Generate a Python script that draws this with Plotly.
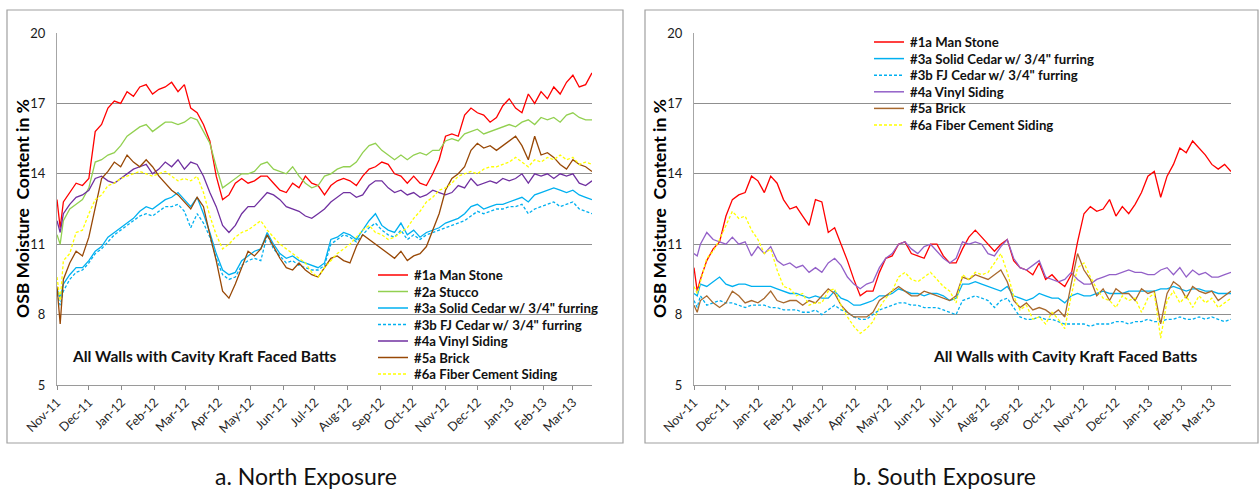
import plotly.graph_objects as go
import pandas as pd

# ---------------- data ----------------
start_date = "2011-11-01"
end_date = "2013-03-19"
day_offsets = [0, 3] + list(range(6, 505, 6))

month_starts = ["2011-11-01", "2011-12-01", "2012-01-01", "2012-02-01", "2012-03-01",
                "2012-04-01", "2012-05-01", "2012-06-01", "2012-07-01", "2012-08-01",
                "2012-09-01", "2012-10-01", "2012-11-01", "2012-12-01", "2013-01-01",
                "2013-02-01", "2013-03-01"]
month_labels = ["Nov-11", "Dec-11", "Jan-12", "Feb-12", "Mar-12", "Apr-12", "May-12",
                "Jun-12", "Jul-12", "Aug-12", "Sep-12", "Oct-12", "Nov-12", "Dec-12",
                "Jan-13", "Feb-13", "Mar-13"]
y_ticks = [5, 8, 11, 14, 17, 20]

# North exposure
north_1a = [12.9, 11.7, 12.8, 13.2, 13.6, 13.5, 13.8, 15.8, 16.1, 16.8, 17.1,
            17.0, 17.5, 17.3, 17.7, 17.8, 17.4, 17.6, 17.7, 17.9, 17.5,
            17.8, 16.8, 16.6, 16.1, 15.4, 13.9, 12.9, 13.1, 13.6, 13.8,
            13.6, 13.7, 13.9, 13.9, 13.6, 13.3, 13.2, 13.6, 13.4, 13.9,
            13.6, 13.5, 13.1, 13.5, 13.7, 13.8, 13.7, 13.5, 13.9, 14.2,
            14.3, 14.5, 14.4, 14.0, 13.9, 13.6, 13.9, 13.6, 13.5, 14.0,
            14.6, 15.6, 15.7, 15.6, 16.5, 16.8, 16.6, 16.5, 16.2, 16.4,
            16.9, 17.2, 16.8, 16.6, 17.4, 17.0, 17.5, 17.2, 17.7, 17.4,
            17.9, 18.2, 17.7, 17.8, 18.3]
north_2a = [11.4, 11.0, 12.0, 12.5, 12.7, 12.9, 13.4, 14.5, 14.6, 14.8, 14.9,
            15.2, 15.6, 15.8, 16.0, 16.1, 15.8, 16.0, 16.2, 16.2, 16.1,
            16.2, 16.4, 16.3, 15.8, 15.3, 14.3, 13.4, 13.6, 13.8, 14.0,
            14.0, 14.1, 14.4, 14.5, 14.2, 14.1, 14.0, 14.3, 13.9, 13.6,
            13.4, 13.5, 13.9, 14.0, 14.2, 14.3, 14.3, 14.5, 14.9, 15.2,
            15.3, 15.0, 14.8, 14.6, 14.8, 14.6, 14.8, 14.9, 14.8, 15.0,
            15.0, 15.4, 15.5, 15.4, 15.7, 15.8, 15.9, 15.7, 15.8, 15.9,
            16.0, 16.1, 16.0, 16.2, 16.3, 16.1, 16.4, 16.3, 16.4, 16.2,
            16.5, 16.6, 16.4, 16.3, 16.3]
north_3a = [9.1, 8.7, 9.3, 9.7, 10.0, 10.0, 10.3, 10.7, 10.9, 11.3, 11.5,
            11.7, 11.9, 12.1, 12.4, 12.6, 12.5, 12.7, 12.9, 13.0, 13.2,
            12.9, 12.6, 13.0, 12.3, 11.5, 10.6, 9.9, 9.7, 9.8, 10.3,
            10.5, 10.7, 10.8, 11.5, 11.0, 10.6, 10.4, 10.5, 10.3, 10.2,
            10.1, 10.0, 10.2, 11.2, 11.3, 11.5, 11.4, 11.2, 11.6, 12.0,
            12.3, 11.8, 11.6, 11.5, 11.9, 11.4, 11.6, 11.3, 11.5, 11.6,
            11.7, 11.9, 12.0, 12.1, 12.3, 12.6, 12.7, 12.5, 12.6, 12.7,
            12.7, 12.8, 12.9, 13.0, 12.8, 13.1, 13.2, 13.3, 13.4, 13.3,
            13.2, 13.3, 13.1, 13.0, 12.9]
north_3b = [8.9, 8.4, 9.0, 9.5, 9.8, 9.9, 10.2, 10.6, 10.8, 11.1, 11.4,
            11.6, 11.8, 12.0, 12.2, 12.3, 12.2, 12.4, 12.6, 12.6, 12.7,
            12.4, 11.7, 12.3, 11.9, 11.3, 10.4, 9.7, 9.5, 9.6, 10.1,
            10.3, 10.4, 10.3, 11.4, 10.8, 10.5, 10.2, 10.3, 10.1, 10.0,
            9.9, 9.9, 10.1, 11.0, 11.2, 11.4, 11.3, 11.1, 11.4, 11.7,
            11.9, 11.6, 11.4, 11.3, 11.6, 11.2, 11.4, 11.2, 11.4, 11.5,
            11.6, 11.7, 11.8, 11.9, 12.0, 12.2, 12.4, 12.3, 12.4, 12.5,
            12.5, 12.6, 12.6, 12.7, 12.3, 12.5, 12.6, 12.7, 12.8, 12.6,
            12.7, 12.8, 12.5, 12.4, 12.3]
north_4a = [12.0, 11.5, 12.3, 12.7, 13.0, 13.1, 13.3, 13.8, 13.9, 13.7, 13.6,
            13.8, 14.0, 14.2, 14.3, 14.4, 14.0, 14.2, 14.5, 14.3, 14.6,
            14.2, 14.5, 14.4, 13.9, 13.2, 12.6, 11.8, 11.5, 11.8, 12.3,
            12.6, 12.6, 12.9, 13.2, 13.1, 12.9, 12.6, 12.5, 12.4, 12.2,
            12.1, 12.3, 12.5, 12.8, 13.0, 13.2, 13.2, 13.0, 13.1, 13.5,
            13.7, 13.7, 13.4, 13.2, 13.3, 13.1, 13.2, 13.0, 13.1, 13.3,
            13.2, 13.1, 13.2, 13.5, 13.4, 13.8, 13.5, 13.6, 13.7, 13.6,
            13.8, 13.7, 13.8, 14.0, 13.6, 14.0, 13.9, 14.0, 13.8, 14.0,
            13.9, 14.0, 13.6, 13.5, 13.7]
north_5a = [9.2, 7.6, 9.5, 10.2, 10.7, 10.5, 11.3, 12.5, 13.8, 14.1, 14.5,
            14.3, 14.8, 14.5, 14.3, 14.6, 14.3, 13.9, 13.6, 13.3, 13.1,
            12.8, 12.5, 13.0, 12.6, 11.4, 10.3, 9.0, 8.7, 9.3, 10.0,
            10.7, 10.5, 10.8, 11.4, 10.9, 10.4, 10.0, 9.9, 10.2, 9.9,
            9.7, 9.6, 10.0, 10.4, 10.5, 10.3, 10.2, 10.9, 11.4, 11.2,
            11.0, 10.8, 10.6, 10.4, 10.7, 10.3, 10.5, 10.6, 10.9, 11.6,
            12.3, 13.3, 13.8, 14.0, 14.3, 15.0, 15.3, 15.1, 15.2, 15.0,
            15.2, 15.4, 15.6, 15.2, 14.6, 15.6, 14.8, 14.9, 14.7, 14.4,
            14.2, 14.6, 14.4, 14.3, 14.1]
north_6a = [9.6, 8.6, 10.3, 10.6, 11.5, 11.6, 12.3, 12.9, 13.1, 13.5, 13.6,
            13.8, 13.9, 14.0, 14.1, 14.0, 13.9, 14.0, 14.1, 13.9, 13.7,
            13.8, 13.7, 13.9, 13.2, 12.2, 11.4, 10.8, 11.0, 11.3, 11.5,
            11.6, 11.8, 12.0, 11.6, 11.3, 11.0, 10.8, 10.6, 10.4, 10.2,
            9.8, 9.6, 10.0, 10.3, 10.6, 10.8, 11.0, 11.3, 11.6, 11.8,
            11.5, 11.4, 11.2, 11.3, 11.5, 11.7, 12.1, 12.4, 12.8, 13.0,
            13.3, 13.4, 13.6, 13.9, 14.0, 14.1, 14.0, 14.2, 14.3, 14.3,
            14.4, 14.5, 14.7, 14.5, 14.3, 14.6, 14.5, 14.7, 14.6, 14.8,
            14.6, 14.7, 14.4, 14.5, 14.4]

# South exposure
south_1a = [10.0, 9.0, 9.5, 10.3, 10.8, 11.1, 12.2, 12.9, 13.1, 13.2, 13.9,
            13.7, 13.2, 13.9, 13.6, 12.9, 12.5, 12.6, 12.2, 11.8, 12.9,
            12.8, 11.5, 11.7, 11.0, 10.3, 9.5, 8.8, 9.0, 9.0, 9.8,
            10.4, 10.5, 11.0, 11.1, 10.6, 10.5, 10.4, 11.0, 11.0, 10.5,
            10.2, 10.2, 10.8, 11.3, 11.6, 11.3, 11.0, 10.7, 11.0, 11.2,
            10.3, 10.0, 9.9, 9.7, 10.2, 9.5, 9.7, 9.4, 9.2, 9.7,
            11.1, 12.3, 12.6, 12.4, 12.5, 12.9, 12.2, 12.6, 12.3, 12.7,
            13.2, 13.9, 14.1, 13.0, 13.9, 14.4, 15.1, 14.9, 15.4, 15.1,
            14.8, 14.4, 14.2, 14.4, 14.1]
south_3a = [8.9, 8.8, 9.3, 9.2, 9.4, 9.6, 9.3, 9.2, 9.3, 9.3, 9.2,
            9.2, 9.2, 9.2, 9.1, 9.0, 8.9, 8.9, 8.8, 8.7, 8.8,
            8.7, 8.7, 9.0, 8.7, 8.6, 8.4, 8.4, 8.5, 8.6, 8.8,
            8.8, 8.9, 9.1, 9.0, 8.9, 8.9, 8.8, 8.9, 8.9, 8.8,
            8.6, 8.7, 9.3, 9.3, 9.4, 9.3, 9.2, 9.1, 9.0, 9.2,
            8.8, 8.7, 8.6, 8.7, 8.9, 8.8, 8.7, 8.7, 8.5, 8.8,
            8.9, 8.8, 8.8, 8.9, 9.0, 8.9, 8.9, 8.9, 9.0, 9.0,
            9.0, 9.0, 9.0, 9.1, 9.1, 9.2, 9.1, 9.0, 9.1, 9.1,
            9.0, 9.0, 8.9, 8.9, 8.9]
south_3b = [8.6, 8.3, 8.8, 8.4, 8.5, 8.6, 8.5, 8.5, 8.4, 8.3, 8.4,
            8.4, 8.4, 8.3, 8.3, 8.2, 8.2, 8.2, 8.1, 8.1, 8.2,
            8.0, 8.2, 8.4, 8.2, 8.1, 7.9, 7.8, 7.8, 8.0, 8.2,
            8.3, 8.4, 8.5, 8.5, 8.4, 8.4, 8.3, 8.3, 8.3, 8.2,
            8.1, 8.0, 8.6, 8.7, 8.8, 8.7, 8.6, 8.3, 8.6, 8.7,
            8.3, 7.9, 7.8, 7.8, 7.9, 7.8, 7.8, 7.7, 7.6, 7.6,
            7.6, 7.6, 7.5, 7.6, 7.6, 7.6, 7.7, 7.7, 7.6, 7.7,
            7.7, 7.8, 7.7, 7.7, 7.8, 7.8, 7.9, 7.8, 7.8, 7.9,
            7.8, 7.9, 7.8, 7.7, 7.8]
south_4a = [10.6, 10.5, 11.0, 11.5, 11.2, 11.1, 11.0, 11.3, 11.0, 11.1, 10.5,
            10.9, 10.6, 10.9, 10.3, 10.1, 10.2, 10.0, 10.1, 9.8, 10.0,
            9.8, 10.2, 10.4, 10.1, 9.6, 9.3, 9.1, 9.3, 9.4, 10.0,
            10.4, 10.6, 11.0, 11.1, 10.8, 10.6, 10.9, 11.0, 10.7, 10.4,
            10.2, 10.4, 11.1, 11.0, 11.1, 11.0, 10.6, 10.5, 10.9, 11.2,
            10.4, 10.0, 9.9, 10.1, 10.3, 9.6, 9.5, 9.4, 9.5, 9.8,
            9.5, 9.3, 9.3, 9.5, 9.6, 9.7, 9.7, 9.8, 9.9, 9.8,
            9.8, 9.7, 9.7, 9.9, 10.0, 9.7, 10.0, 9.6, 9.9, 9.7,
            9.8, 9.6, 9.6, 9.7, 9.8]
south_5a = [8.4, 8.1, 8.6, 8.8, 8.5, 8.3, 8.5, 9.0, 8.8, 8.5, 8.6,
            8.5, 8.7, 9.0, 8.6, 8.5, 8.6, 8.6, 8.4, 8.6, 8.5,
            8.8, 9.1, 8.9, 8.4, 8.1, 7.9, 7.9, 7.9, 8.1, 8.6,
            8.8, 9.0, 9.2, 9.0, 8.8, 8.8, 9.0, 8.9, 8.8, 8.7,
            8.6, 8.8, 9.6, 9.5, 9.7, 9.6, 9.5, 9.7, 9.9, 9.4,
            8.6, 8.3, 8.5, 8.2, 8.3, 8.2, 8.0, 8.2, 7.9, 9.3,
            10.6, 9.9, 9.5, 8.8, 9.1, 8.6, 9.1, 8.9, 8.9, 8.6,
            9.1, 8.9, 9.0, 7.6, 8.9, 9.4, 9.2, 8.7, 9.2, 9.0,
            8.9, 9.0, 8.6, 8.8, 9.0]
south_6a = [9.2, 8.9, 9.4, 10.4, 10.7, 11.2, 11.8, 12.4, 12.1, 12.2, 11.6,
            11.2, 10.6, 10.8, 9.9, 9.2, 9.1, 8.8, 8.9, 8.4, 8.5,
            8.5, 9.0, 9.1, 8.4, 7.9, 7.5, 7.2, 7.4, 7.7, 8.3,
            8.7, 9.0, 9.6, 9.8, 9.5, 9.4, 9.6, 9.8, 9.5, 9.2,
            9.0, 8.5, 9.7, 9.5, 9.8, 9.7, 9.8, 10.2, 10.6, 9.8,
            8.8, 8.2, 8.4, 7.8, 7.9, 7.6, 8.1, 7.8, 7.4, 8.8,
            10.0, 10.2, 9.6, 9.1, 8.7, 8.6, 8.3, 8.8, 8.6, 8.7,
            8.1, 8.7, 8.9, 7.0, 8.6, 9.0, 8.5, 8.8, 8.3, 8.8,
            8.5, 8.7, 8.3, 8.5, 8.7]

north_names = ["#1a Man Stone", "#2a Stucco", "#3a Solid Cedar w/ 3/4\" furring",
               "#3b FJ Cedar w/ 3/4\" furring", "#4a Vinyl Siding", "#5a Brick",
               "#6a Fiber Cement Siding"]
south_names = ["#1a Man Stone", "#3a Solid Cedar w/ 3/4\" furring",
               "#3b FJ Cedar w/ 3/4\" furring", "#4a Vinyl Siding", "#5a Brick",
               "#6a Fiber Cement Siding"]

# ---------------- styles ----------------
W, H = 1260, 489
FONT = "Lato, 'Open Sans', sans-serif"
DASH = "3px,2px"
north_styles = [("#ff0000", "solid"), ("#92d050", "solid"), ("#00b0f0", "solid"),
                ("#00b0f0", DASH), ("#7030a0", "solid"), ("#984806", "solid"),
                ("#ffff00", DASH)]
south_styles = [("#ff0000", "solid"), ("#00b0f0", "solid"), ("#00b0f0", DASH),
                ("#9360c8", "solid"), ("#a8692e", "solid"), ("#ffff00", DASH)]


def px(x):
    return x / W


def py(y):
    return 1 - y / H


dates = pd.to_datetime(start_date) + pd.to_timedelta(day_offsets, unit="D")

fig = go.Figure()
north_series = [north_1a, north_2a, north_3a, north_3b, north_4a, north_5a, north_6a]
south_series = [south_1a, south_3a, south_3b, south_4a, south_5a, south_6a]

for name, vals, (col, dash) in zip(north_names, north_series, north_styles):
    fig.add_trace(go.Scatter(x=dates, y=vals, mode="lines", name=name,
                             line=dict(color=col, width=1.3, dash=dash),
                             xaxis="x", yaxis="y", showlegend=False))
for name, vals, (col, dash) in zip(south_names, south_series, south_styles):
    fig.add_trace(go.Scatter(x=dates, y=vals, mode="lines", name=name,
                             line=dict(color=col, width=1.3, dash=dash),
                             xaxis="x2", yaxis="y2", showlegend=False))

y_dom = [py(385), py(33)]
xa_dom = [px(57), px(592)]
xb_dom = [px(694), px(1231)]

xcommon = dict(type="date", range=[start_date, end_date], tickmode="array",
               tickvals=month_starts, ticktext=month_labels, tickangle=-45,
               ticks="outside", ticklen=4, tickcolor="#8a8a8a", tickwidth=1,
               showline=True, linecolor="#9a9a9a", linewidth=1.2, showgrid=False,
               zeroline=False, automargin=False,
               tickfont=dict(family=FONT, size=12.5, color="#262626"))
ycommon = dict(range=[5, 20], tickmode="array", tickvals=y_ticks, showgrid=True,
               gridcolor="#8f8f8f", gridwidth=1.2, showline=True, linecolor="#a6a6a6",
               linewidth=1.2, ticks="", zeroline=False, ticklabelstandoff=8,
               automargin=False,
               tickfont=dict(family=FONT, size=13, color="#1a1a1a"))
xover = dict(type="date", tickmode="array", tickvals=month_starts, ticks="inside",
             ticklen=4, tickcolor="#8a8a8a", showticklabels=False, showline=False,
             showgrid=False, zeroline=False, automargin=False)

fig.update_layout(
    template="none",
    width=W, height=H, margin=dict(l=0, r=0, t=0, b=0, autoexpand=False),
    paper_bgcolor="white", plot_bgcolor="white", showlegend=False,
    xaxis=dict(domain=xa_dom, anchor="y", **xcommon),
    yaxis=dict(domain=y_dom, anchor="x", **ycommon),
    xaxis2=dict(domain=xb_dom, anchor="y2", **xcommon),
    yaxis2=dict(domain=y_dom, anchor="x2", **ycommon),
    xaxis3=dict(overlaying="x", matches="x", anchor="y", **xover),
    xaxis4=dict(overlaying="x2", matches="x2", anchor="y2", **xover),
)

shapes = []
annotations = []
# panel frames
for x0, x1 in [(7, 623), (645, 1258)]:
    shapes.append(dict(type="rect", xref="paper", yref="paper", x0=px(x0), x1=px(x1),
                       y0=py(443), y1=py(10), line=dict(color="#a0a0a0", width=1.2)))


def legend(names, styles, x_line, row0, step):
    for i, (nm, (col, dash)) in enumerate(zip(names, styles)):
        yy = row0 + step * i
        shapes.append(dict(type="line", xref="paper", yref="paper",
                           x0=px(x_line), x1=px(x_line + 30), y0=py(yy), y1=py(yy),
                           line=dict(color=col, width=1.5, dash=dash)))
        annotations.append(dict(x=px(x_line + 34), y=py(yy), xref="paper", yref="paper",
                                text="<b>" + nm + "</b>", showarrow=False,
                                xanchor="left", yanchor="middle",
                                font=dict(family=FONT, size=13.2, color="#111")))


legend(north_names, north_styles, 378, 275, 16.5)
legend(south_names, south_styles, 874, 42, 16.6)

for cx in [204, 1065]:
    annotations.append(dict(x=px(cx), y=py(356), xref="paper", yref="paper",
                            text="<b>All Walls with Cavity Kraft Faced Batts</b>",
                            showarrow=False, xanchor="center", yanchor="middle",
                            font=dict(family=FONT, size=15.5, color="#111")))
for cx in [22, 659]:
    annotations.append(dict(x=px(cx), y=py(209), xref="paper", yref="paper",
                            text="<b>OSB Moisture  Content in %</b>", textangle=-90,
                            showarrow=False, xanchor="center", yanchor="middle",
                            font=dict(family=FONT, size=17.5, color="#000")))
for cx, t in [(306, "a. North Exposure"), (944, "b. South Exposure")]:
    annotations.append(dict(x=px(cx), y=py(476), xref="paper", yref="paper", text=t,
                            showarrow=False, xanchor="center", yanchor="middle",
                            font=dict(family=FONT, size=23, color="#111")))

fig.update_layout(shapes=shapes, annotations=annotations)
fig.write_html("out.html", config={"displayModeBar": False},
               post_script="document.body.style.margin='0px';")
